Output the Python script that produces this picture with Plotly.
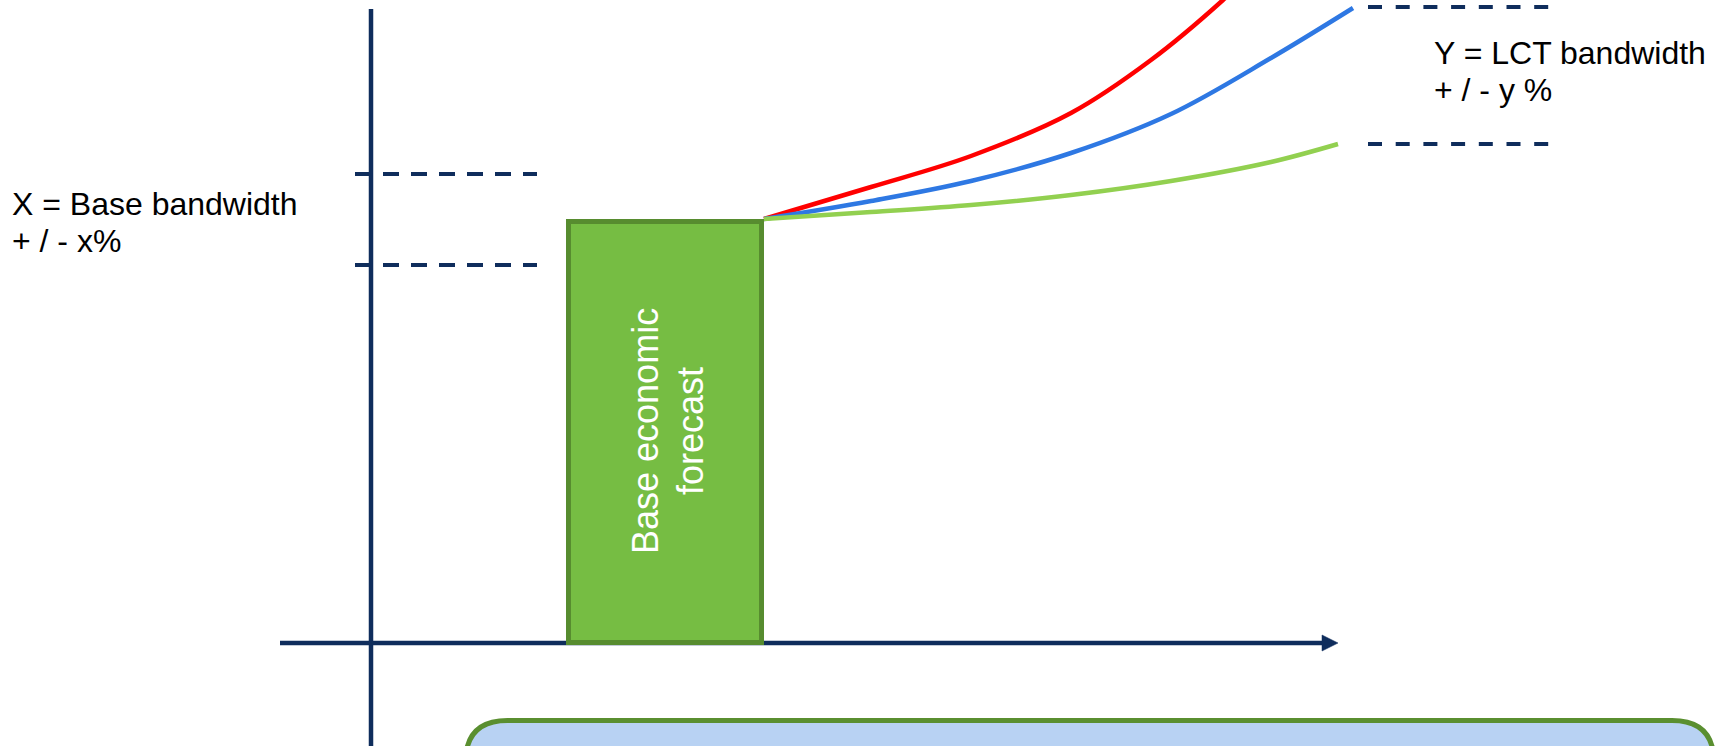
import plotly.graph_objects as go

# Coordinate system: x = time from origin, y = value (schematic units)
# Base economic forecast block
base_x = [197.5, 390.5]
base_top = 421.5

# Scenario curves (schematic values)
red_x = [393, 500, 600, 700, 780, 852, 890]
red_y = [424, 456, 487, 530, 583, 643, 680]

blue_x = [393, 500, 600, 700, 800, 900, 982]
blue_y = [424, 442, 462, 490, 529, 585, 635]

green_x = [393, 500, 600, 700, 800, 900, 967]
green_y = [424, 431, 438, 448, 462, 481, 499]

# Bandwidth markers
base_band = [469, 378]          # X band (left dashed levels)
base_band_x = [-16, 166]
lct_band = [636, 499]           # Y band (right dashed levels)
lct_band_x = [997, 1179]

labels_left = ["X = Base bandwidth", "+ / - x%"]
labels_right = ["Y = LCT bandwidth", "+ / - y %"]
box_label = ["Base economic", "forecast"]

NAVY = "#0F2D5C"
FONT = "Liberation Sans, Arial, sans-serif"

fig = go.Figure()

fig.add_trace(go.Scatter(x=red_x, y=red_y, mode="lines", line=dict(color="#FF0000", width=4.5, shape="spline"),
                         hoverinfo="skip", showlegend=False))
fig.add_trace(go.Scatter(x=blue_x, y=blue_y, mode="lines", line=dict(color="#2E78E3", width=4.5, shape="spline"),
                         hoverinfo="skip", showlegend=False))
fig.add_trace(go.Scatter(x=green_x, y=green_y, mode="lines", line=dict(color="#92D050", width=4.5, shape="spline"),
                         hoverinfo="skip", showlegend=False))

shapes = []
# axes
shapes.append(dict(type="line", x0=0, x1=0, y0=-120, y1=634, line=dict(color=NAVY, width=4.5), layer="below"))
shapes.append(dict(type="line", x0=-91, x1=953, y0=0, y1=0, line=dict(color=NAVY, width=4.5), layer="below"))
shapes.append(dict(type="path", path="M 951,8 L 967,0 L 951,-8 Z", fillcolor=NAVY, line=dict(color=NAVY, width=0.5), layer="below"))
# base forecast block
shapes.append(dict(type="rect", x0=base_x[0], x1=base_x[1], y0=0.5, y1=base_top,
                   fillcolor="#76BD43", line=dict(color="#578C2F", width=5), layer="below"))
# dashed bands
for yv in base_band:
    shapes.append(dict(type="line", x0=base_band_x[0], x1=base_band_x[1], y0=yv, y1=yv,
                       line=dict(color=NAVY, width=4, dash="16px,12px"), layer="below"))
for yv in lct_band:
    shapes.append(dict(type="line", x0=lct_band_x[0], x1=lct_band_x[1], y0=yv, y1=yv,
                       line=dict(color=NAVY, width=4, dash="14px,13.7px"), layer="below"))
# rounded box at bottom
L, R, T, B, r = 94.5, 1343, -77.5, -160, 42
path = (f"M {L},{B} L {L},{T-r} Q {L},{T} {L+r},{T} L {R-r},{T} Q {R},{T} {R},{T-r} L {R},{B} Z")
shapes.append(dict(type="path", path=path, fillcolor="#B8D2F3", line=dict(color="#5A8F30", width=5), layer="below"))

annotations = []
for i, t in enumerate(labels_left):
    annotations.append(dict(x=-361, y=[643 - 203.5, 643 - 240.5][i], text=t, showarrow=False,
                            xanchor="left", yanchor="middle", font=dict(family=FONT, size=32, color="#000000")))
for i, t in enumerate(labels_right):
    annotations.append(dict(x=1061, y=[643 - 52.5, 643 - 89.5][i], text=t, showarrow=False,
                            xanchor="left", yanchor="middle", font=dict(family=FONT, size=32, color="#000000")))
for i, t in enumerate(box_label):
    annotations.append(dict(x=[645 - 371, 690 - 371][i], y=643 - 431, text=t, showarrow=False, textangle=-90,
                            xanchor="center", yanchor="middle", font=dict(family=FONT, size=36, color="#FFFFFF")))

fig.update_layout(
    width=1719, height=746,
    margin=dict(l=0, r=0, t=0, b=0),
    paper_bgcolor="white", plot_bgcolor="white",
    xaxis=dict(range=[-371, 1348], visible=False, fixedrange=True),
    yaxis=dict(range=[-103, 643], visible=False, fixedrange=True),
    shapes=shapes, annotations=annotations,
    showlegend=False,
)

fig.write_html("out.html", config={"displayModeBar": False})
